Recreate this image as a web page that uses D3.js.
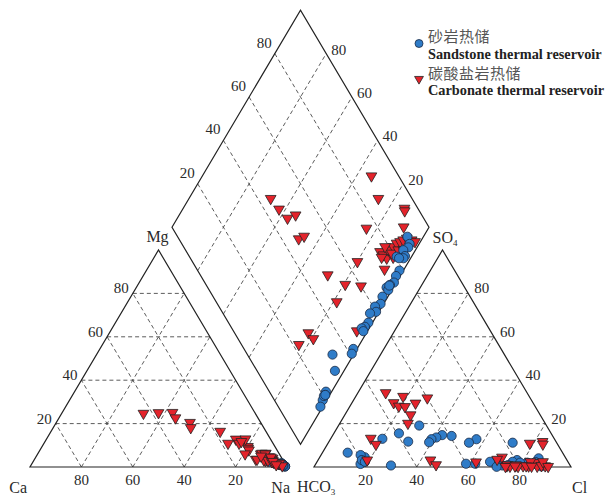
<!DOCTYPE html>
<html>
<head>
<meta charset="utf-8">
<script src="https://cdn.jsdelivr.net/npm/d3@7"></script>
<style>
  body { margin: 0; background: #fff; }
  svg text { font-family: "Liberation Serif", "Times New Roman", serif; fill: #2a2a2a; }
</style>
</head>
<body>
<div id="chart"></div>
<script>
// each sample: [Na+K, Mg, HCO3, SO4] in meq %; Ca = 100 - Na - Mg, Cl = 100 - HCO3 - SO4
const sandstone = [
  [93.8, 2.0, 10.6, 4.0], [96.3, 1.2, 11.4, 0.3], [96.6, 1.0, 12.7, 2.3], [95.3, 1.5, 15.3, 1.5],
  [97.3, 0.8, 16.0, 2.0], [97.2, 1.0, 17.1, 11.2], [94.2, 2.2, 19.4, 3.2], [98.5, 0.5, 21.5, 2.4],
  [98.4, 0.6, 24.1, 0.9], [99.1, 0.3, 26.4, 0.7], [98.1, 0.8, 28.5, 1.7], [97.4, 1.2, 30.4, 12.8],
  [98.6, 0.5, 30.3, 2.4], [97.9, 1.0, 34.1, 11.2], [98.8, 0.4, 36.5, 1.5], [97.3, 1.5, 39.3, 14.3],
  [98.9, 0.4, 40.1, 1.5], [96.9, 1.8, 42.8, 14.7], [98.4, 0.6, 45.6, 13.6], [98.0, 0.9, 47.9, 12.8],
  [97.1, 1.4, 49.5, 19.1], [98.4, 0.7, 49.5, 11.4], [98.6, 0.6, 57.5, 11.7], [99.1, 0.3, 59.2, 15.5],
  [91.8, 2.4, 66.9, 13.0], [96.5, 1.2, 69.7, 0.7], [97.8, 0.9, 78.0, 4.5], [98.2, 0.8, 79.1, 5.5],
  [98.5, 0.6, 81.2, 1.4], [99.1, 0.3, 83.6, 6.6], [98.0, 0.8, 79.8, 3.2], [98.3, 0.6, 79.0, 2.4],
  [98.0, 0.7, 28.9, 0.1], [95.5, 1.5, 18.8, 2.0]
];
const carbonate = [
  [65.8, 16.4, 10.6, 10.9], [31.8, 24.7, 55.0, 34.2], [37.5, 25.0, 54.2, 29.6], [42.9, 25.1, 53.0, 28.0],
  [45.3, 22.6, 49.1, 32.5], [73.7, 12.8, 13.1, 2.0], [86.1, 3.5, 5.2, 11.7], [86.8, 6.0, 5.7, 10.5],
  [75.9, 10.9, 24.6, 4.5], [90.1, 3.0, 9.8, 0.5], [52.0, 20.5, 53.4, 20.1], [53.5, 18.1, 50.7, 27.8],
  [80.1, 9.4, 35.8, 2.3], [71.6, 10.9, 50.4, 24.0], [80.6, 8.6, 45.8, 29.4], [87.1, 6.3, 40.0, 31.8],
  [92.4, 4.0, 27.0, 3.5], [81.3, 7.8, 53.1, 3.2], [77.4, 12.9, 71.3, 13.2], [76.4, 11.7, 77.7, 3.2],
  [95.8, 1.7, 52.0, 1.0], [80.7, 6.0, 70.7, 10.4],
  [86.6, 3.5, 24.7, 0.5], [88.6, 6.3, 24.2, 1.0], [90.7, 4.7, 23.6, 0.3], [88.5, 6.0, 25.4, 0.2],
  [89.4, 3.2, 21.1, 0.8], [90.6, 4.0, 18.4, 0.5], [91.1, 3.0, 16.3, 0.4], [92.1, 3.5, 14.6, 2.4],
  [92.9, 2.4, 13.0, 0.3], [93.9, 2.0, 11.2, 0.6], [96.2, 1.7, 9.7, 2.4], [97.9, 0.5, 8.8, 0.2],
  [93.0, 3.0, 20.9, 0.9], [91.5, 4.5, 20.5, 0.2], [93.3, 2.5, 17.2, 0.5], [95.3, 1.0, 15.2, 0.3],
  [87.4, 5.0, 21.6, 0.4]
];
const ticks = [20, 40, 60, 80];
const legendCn = ["砂岩热储", "碳酸盐岩热储"];
const legendEn = ["Sandstone thermal reservoir", "Carbonate thermal reservoir"];

const width = 609, height = 498;
const side = 257, tri = 217, gap = 27, left = 30, base = 467;
const gapPct = gap / side * 100;

const x = d3.scaleLinear().domain([0, 100]).range([left, left + side]);
const y = d3.scaleLinear().domain([0, 100]).range([base, base - tri]);

// panel projections (percent -> pixel)
const cation = (na, mg) => [x(na + mg / 2), y(mg)];
const anion = (cl, so4) => [x(100 + gapPct + cl + so4 / 2), y(so4)];
const diamond = (na, hco3) => {
  const t = 100 + gapPct + (100 - hco3) - na;
  return [x(na + t / 2), y(t)];
};

const svg = d3.select("#chart").append("svg")
  .attr("width", width).attr("height", height)
  .attr("viewBox", `0 0 ${width} ${height}`);

const line = d3.line();
const gridLayer = svg.append("g")
  .attr("fill", "none").attr("stroke", "#4a4a4a")
  .attr("stroke-width", 0.9).attr("stroke-dasharray", "4,3");

const grid = [];
ticks.forEach((k) => {
  // cation triangle
  grid.push([cation(0, k), cation(100 - k, k)]);
  grid.push([cation(k, 0), cation(k, 100 - k)]);
  grid.push([cation(100 - k, 0), cation(0, 100 - k)]);
  // anion triangle
  grid.push([anion(0, k), anion(100 - k, k)]);
  grid.push([anion(k, 0), anion(0, k)]);
  grid.push([anion(100 - k, 0), anion(100 - k, k)]);
  // diamond
  grid.push([diamond(k, 100), diamond(k, 0)]);
  grid.push([diamond(0, k), diamond(100, k)]);
});
gridLayer.selectAll("path").data(grid).join("path").attr("d", (d) => line(d));

const outlines = [
  [cation(0, 0), cation(100, 0), cation(0, 100)],
  [anion(0, 0), anion(100, 0), anion(0, 100)],
  [diamond(100, 100), diamond(0, 100), diamond(0, 0), diamond(100, 0)]
];
svg.append("g").selectAll("path").data(outlines).join("path")
  .attr("d", (d) => line(d) + "Z")
  .attr("fill", "none").attr("stroke", "#222").attr("stroke-width", 1.2);

// tick labels
const labels = [];
ticks.forEach((v) => {
  let p = cation(0, v);
  labels.push({ t: v, x: p[0] - 4, y: p[1], a: "end" });
  p = cation(100 - v, 0);
  labels.push({ t: v, x: p[0], y: 485, a: "middle" });
  p = anion(v, 0);
  labels.push({ t: v, x: p[0], y: 485, a: "middle" });
  p = anion(100 - v, v);
  labels.push({ t: v, x: p[0] + 6, y: p[1], a: "start" });
  p = diamond(0, 100 - v);
  labels.push({ t: v, x: p[0] - 3, y: p[1] - 6, a: "end" });
  p = diamond(100 - v, 0);
  labels.push({ t: v, x: p[0] + 5, y: p[1] + 1, a: "start" });
});
svg.append("g").selectAll("text").data(labels).join("text")
  .attr("x", (d) => d.x).attr("y", (d) => d.y)
  .attr("text-anchor", (d) => d.a)
  .attr("font-size", 15)
  .text((d) => d.t);

// corner labels
const corner = svg.append("g").attr("font-size", 16);
const caP = cation(0, 0), naP = cation(100, 0), mgP = cation(0, 100);
const hcP = anion(0, 0), clP = anion(100, 0), soP = anion(0, 100);
corner.append("text").attr("x", caP[0] - 3).attr("y", caP[1] + 26).attr("text-anchor", "end").text("Ca");
corner.append("text").attr("x", naP[0] + 3).attr("y", naP[1] + 26).attr("text-anchor", "end").text("Na");
corner.append("text").attr("x", mgP[0] - 1).attr("y", mgP[1] - 8).attr("text-anchor", "middle").text("Mg");
corner.append("text").attr("x", clP[0] + 1).attr("y", clP[1] + 26).text("Cl");
const hco = corner.append("text").attr("x", hcP[0] - 17).attr("y", hcP[1] + 25).text("HCO");
hco.append("tspan").attr("font-size", 9).attr("dy", 3).text("3");
const so = corner.append("text").attr("x", soP[0] - 10).attr("y", soP[1] - 7).text("SO");
so.append("tspan").attr("font-size", 9).attr("dy", 3).text("4");

// samples
const blue = "#2f7cc8", red = "#e4232b";
const triSym = d3.symbol().type(d3.symbolTriangle).size(50);

function drawCircles(g, rows, proj) {
  g.selectAll(null).data(rows).join("circle")
    .attr("cx", (d) => proj(d)[0]).attr("cy", (d) => proj(d)[1])
    .attr("r", 4.6)
    .attr("fill", blue).attr("stroke", "#1b2b45").attr("stroke-width", 0.8);
}
function drawTriangles(g, rows, proj) {
  g.selectAll(null).data(rows).join("path")
    .attr("d", triSym)
    .attr("transform", (d) => `translate(${proj(d)[0]},${proj(d)[1]}) rotate(180)`)
    .attr("fill", red).attr("stroke", "#222").attr("stroke-width", 0.8);
}

const pCat = (d) => cation(d[0], d[1]);
const pAn = (d) => anion(100 - d[2] - d[3], d[3]);
const pDia = (d) => diamond(d[0], d[2]);

const gCat = svg.append("g"), gAn = svg.append("g"), gDia = svg.append("g");
drawCircles(gCat, sandstone, pCat);
drawTriangles(gCat, carbonate, pCat);
drawCircles(gAn, sandstone, pAn);
drawTriangles(gAn, carbonate, pAn);
drawTriangles(gDia, carbonate, pDia);
drawCircles(gDia, sandstone, pDia);

// legend
const legend = svg.append("g");
legend.append("circle").attr("cx", 419).attr("cy", 43.5).attr("r", 4)
  .attr("fill", blue).attr("stroke", "#1b2b45").attr("stroke-width", 0.8);
legend.append("path").attr("d", d3.symbol().type(d3.symbolTriangle).size(34))
  .attr("transform", "translate(419,79) rotate(180)")
  .attr("fill", red).attr("stroke", "#222").attr("stroke-width", 0.8);
legend.selectAll("text.cn").data(legendCn).join("text").attr("class", "cn")
  .attr("x", 428).attr("y", (d, i) => 42 + i * 37)
  .attr("font-size", 15)
  .style("font-family", '"Noto Sans CJK SC", sans-serif')
  .style("fill", "#555")
  .style("letter-spacing", "0.5px")
  .text((d) => d);
legend.selectAll("text.en").data(legendEn).join("text").attr("class", "en")
  .attr("x", 428).attr("y", (d, i) => 58.5 + i * 36.5)
  .attr("font-size", 14.3).attr("font-weight", "bold")
  .style("fill", "#222")
  .text((d) => d);
</script>
</body>
</html>
